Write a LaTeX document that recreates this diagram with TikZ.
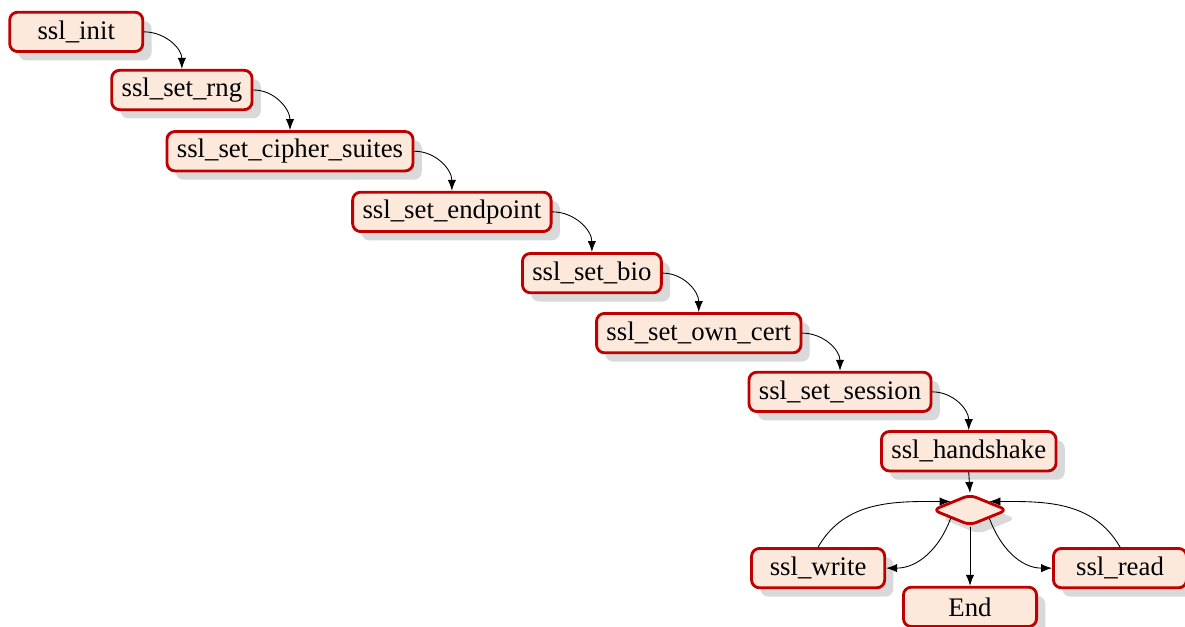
\documentclass[tikz,border=0pt]{standalone}
\usepackage{fontspec}
\setmainfont{Liberation Serif}
\usepackage{tikz}
\usetikzlibrary{arrows.meta, shapes.geometric}
\usetikzlibrary{shadows}

\definecolor{boxfill}{RGB}{252,233,220}
\definecolor{boxline}{RGB}{192,0,0}

\begin{document}
\begin{tikzpicture}[line cap=round,line join=round,>={Latex[length=5pt,width=3.8pt]},x=1.0cm,y=1.0cm]
  \tikzset{
  % rounded box for one call
  call box/.style={
    rectangle, rounded corners=3.6pt, draw=boxline, line width=1.3pt, fill=boxfill,
    minimum width=2.13cm, minimum height=0.63cm, inner xsep=4.5pt,
    font=\fontsize{12.2}{14}\selectfont,
    drop shadow={shadow xshift=4pt, shadow yshift=-4pt, fill=black!15, opacity=1}},
  % flat diamond for the choice
  choice/.style={
    diamond, aspect=2.5, rounded corners=3pt, draw=boxline, line width=1.3pt, fill=boxfill,
    inner sep=0pt, minimum width=1.2cm, minimum height=0.5cm,
    drop shadow={shadow xshift=4pt, shadow yshift=-4pt, fill=black!15, opacity=1}},
}
\useasboundingbox (0,0) rectangle (18.96,-10.02);

\node[call box] (A) at (1.22,-0.51) {ssl\_init};
\node[call box] (B) at (2.91,-1.44) {ssl\_set\_rng};
\node[call box] (C) at (4.64,-2.42) {ssl\_set\_cipher\_suites};
\node[call box] (D) at (7.23,-3.39) {ssl\_set\_endpoint};
\node[call box] (E) at (9.47,-4.37) {ssl\_set\_bio};
\node[call box] (F) at (11.18,-5.33) {ssl\_set\_own\_cert};
\node[call box] (G) at (13.44,-6.27) {ssl\_set\_session};
\node[call box] (H) at (15.50,-7.22) {ssl\_handshake};
\node[choice] (I) at (15.52,-8.16) {};
\node[call box] (J) at (13.09,-9.09) {ssl\_write};
\node[call box] (K) at (17.92,-9.09) {ssl\_read};
\node[call box] (L) at (15.52,-9.71) {End};

\draw[->] (A.east) to[out=0,in=90] (B.north);
\draw[->] (B.east) to[out=0,in=90] (C.north);
\draw[->] (C.east) to[out=0,in=90] (D.north);
\draw[->] (D.east) to[out=0,in=90] (E.north);
\draw[->] (E.east) to[out=0,in=90] (F.north);
\draw[->] (F.east) to[out=0,in=90] (G.north);
\draw[->] (G.east) to[out=0,in=90] (H.north);
\draw[->] (H.south) -- (I.north);
\draw[->] (I.south) -- (L.north);
\draw[->] (I.south west) to[out=250,in=0] (J.east);
\draw[->] (I.south east) to[out=290,in=180] (K.west);
\draw[->] (J.north) to[out=60,in=180] (I.north west);
\draw[->] (K.north) to[out=120,in=0] (I.north east);
\end{tikzpicture}
\end{document}
